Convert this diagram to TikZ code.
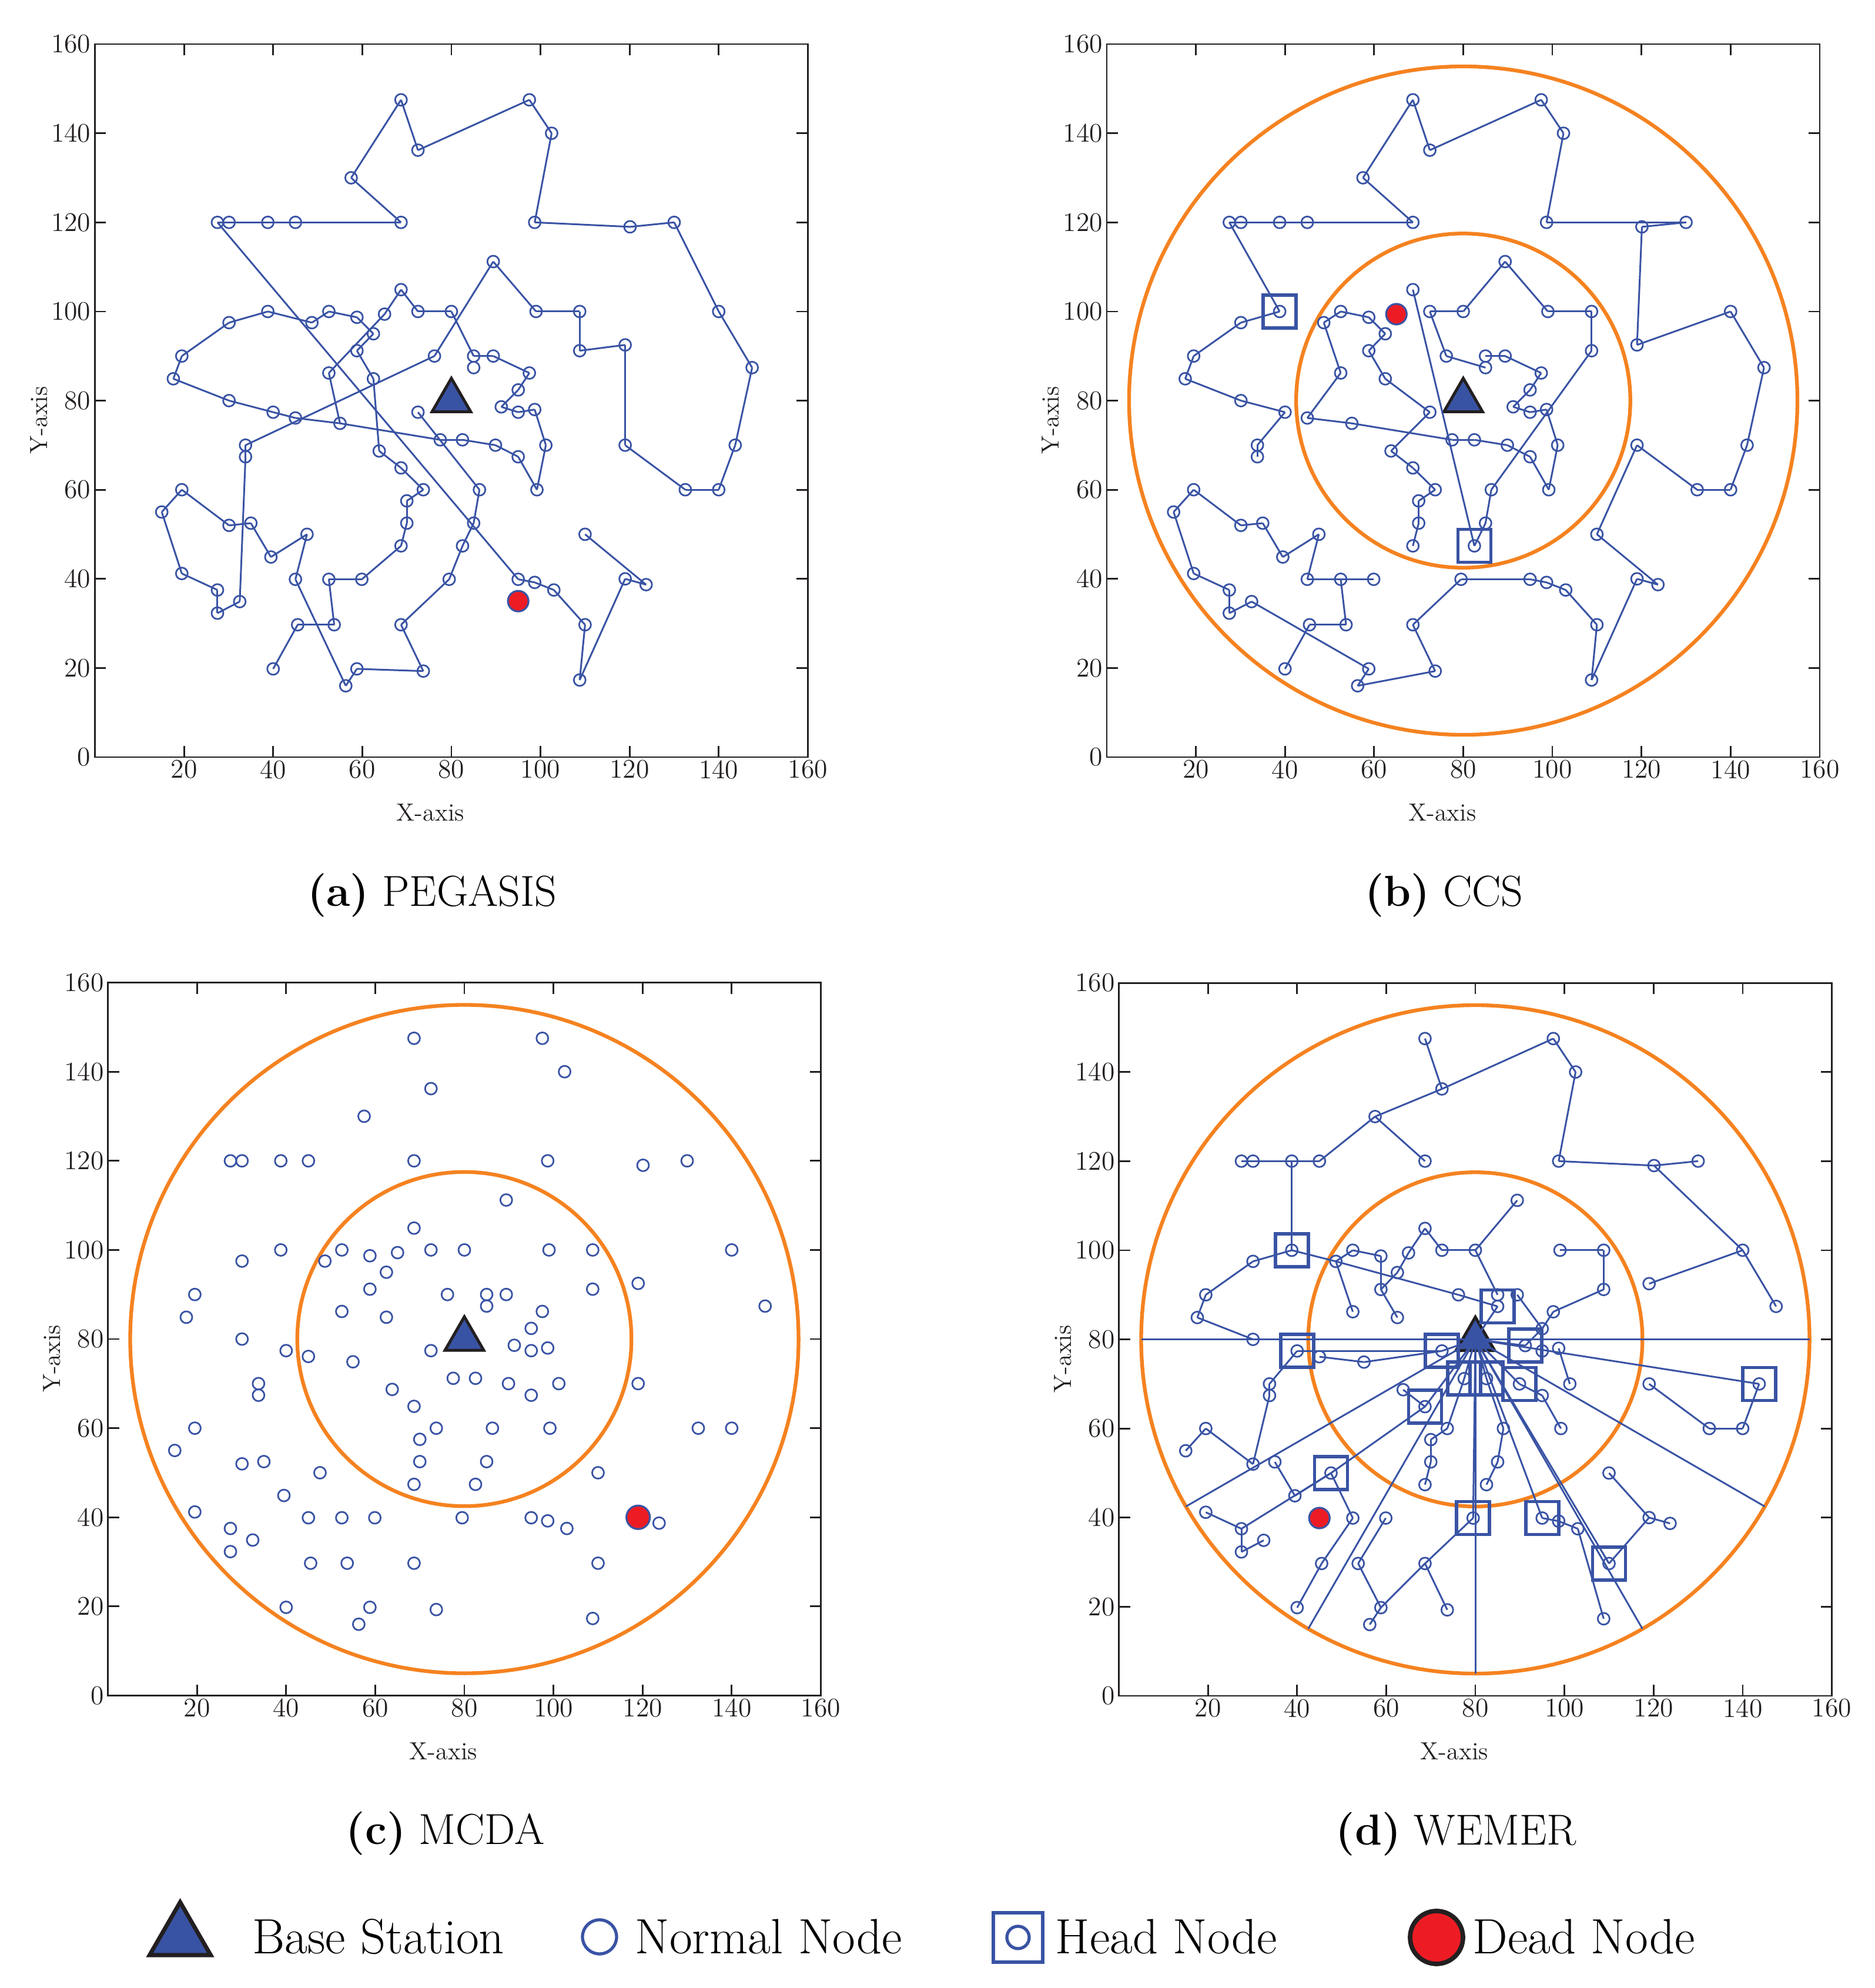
\documentclass[tikz,border=0pt]{standalone}
\usepackage{fontspec}
\usepackage{xcolor}
\usepackage{tikz}
\usetikzlibrary{shapes.geometric,calc}

\definecolor{nodeblue}{RGB}{57,83,164}
\definecolor{ringorange}{RGB}{245,130,32}
\definecolor{deadred}{RGB}{237,28,36}
\definecolor{axisblack}{RGB}{35,31,32}

\tikzset{
  normal/.style={circle,draw=nodeblue,line width=0.8pt,inner sep=0pt,minimum size=0.2cm},
  head/.style={rectangle,draw=nodeblue,line width=1.6pt,inner sep=0pt,minimum size=0.56cm},
  dead/.style={circle,draw=nodeblue,fill=deadred,line width=0.9pt,inner sep=0pt,minimum size=0.35cm},
  bs/.style={regular polygon,regular polygon sides=3,draw=axisblack,fill=nodeblue,line width=1.4pt,inner sep=0pt,minimum size=0.76cm},
  link/.style={draw=nodeblue,line width=0.85pt},
  ring/.style={draw=ringorange,line width=1.8pt},
  axisline/.style={draw=axisblack,line width=0.8pt},
  ticklab/.style={font=\fontsize{13}{15}\selectfont,text=axisblack,inner sep=0pt},
  axislab/.style={font=\fontsize{12}{14}\selectfont,text=axisblack,inner sep=0pt},
  subcap/.style={font=\fontsize{21}{25}\selectfont,inner sep=0pt},
  legtext/.style={font=\fontsize{24}{28}\selectfont,anchor=base west,inner sep=0pt},
  panel/.style={x=0.0758cm,y=0.0758cm}
}

% sensor field, same for all four panels
\newcommand\wsnnodes{1/68.7/147.5,2/97.5/147.5,3/102.5/140,4/72.5/136.2,5/57.5/130,6/27.5/120,7/30.1/120,8/38.8/120,9/45/120,10/68.7/120,11/98.7/120,12/120.1/119,13/130/120,14/89.4/111.2,15/68.7/104.9,16/38.8/100,17/52.5/100,18/72.5/100,19/80/100,20/99/100,21/108.8/100,22/140/100,23/30.1/97.5,24/48.7/97.5,25/58.8/98.7,26/65/99.4,27/62.5/95,28/19.5/90,29/58.8/91.2,30/76.2/90,31/85/90,32/89.4/90,33/108.8/91.2,34/119/92.5,35/17.6/84.9,36/52.5/86.2,37/62.5/84.9,38/85/87.4,39/97.5/86.2,40/147.5/87.4,41/95/82.4,42/30.1/80,43/40/77.4,44/45/76.1,45/55/74.9,46/72.5/77.4,47/91.2/78.6,48/95/77.4,49/98.7/78,50/33.8/70,51/33.8/67.4,52/63.8/68.7,53/77.5/71.2,54/82.5/71.2,55/89.9/70,56/101.2/70,57/119/70,58/95/67.4,59/68.7/64.9,60/19.5/60,61/73.7/60,62/86.3/60,63/99.2/60,64/132.5/60,65/140/60,66/70/57.5,67/15/55,68/30.1/52,69/35/52.5,70/70/52.5,71/85/52.5,72/47.6/50,73/110/50,74/68.7/47.4,75/82.5/47.4,76/39.5/44.9,77/19.5/41.2,78/45/39.9,79/52.5/39.9,80/59.9/39.9,81/79.5/39.9,82/95/39.9,83/98.7/39.2,84/103/37.5,85/119/40,86/123.7/38.7,87/27.5/37.5,88/32.5/34.9,89/27.5/32.3,90/45.5/29.7,91/53.7/29.7,92/68.7/29.7,93/110/29.7,94/40/19.8,95/58.8/19.8,96/73.7/19.3,97/56.3/16,98/108.8/17.3}

% PEGASIS chain
\newcommand\pegasislinks{6/7,7/8,8/9,9/10,10/5,5/1,1/4,4/2,2/3,3/11,11/12,12/13,13/22,22/40,40/99,99/65,65/64,64/57,57/34,34/33,33/21,21/20,20/14,14/30,30/50,50/51,51/88,88/89,89/87,87/77,77/67,67/60,60/68,68/69,69/76,76/72,72/78,78/97,97/95,95/96,96/92,92/81,81/75,75/71,71/62,62/46,35/28,28/23,23/16,16/24,24/17,17/25,25/27,27/29,29/37,37/52,52/59,59/61,61/66,66/70,70/74,74/80,80/79,79/91,91/90,90/94,35/42,42/43,43/44,44/45,45/53,53/54,54/55,55/58,58/63,63/56,56/49,49/48,48/47,47/41,41/39,39/32,32/31,31/19,19/18,18/15,15/26,26/36,36/45,6/82,82/83,83/84,84/93,93/98,98/85,85/86,86/73}

% CCS chains
\newcommand\ccslinks{6/7,7/8,8/9,9/10,10/5,5/1,1/4,4/2,2/3,3/11,11/13,13/12,12/34,34/22,22/40,40/99,99/65,65/64,64/57,57/73,73/86,86/85,85/98,98/93,93/84,84/83,83/82,82/81,81/92,92/96,96/97,97/95,95/88,88/89,89/87,87/77,77/67,67/60,60/68,68/69,69/76,76/72,72/78,78/79,79/80,79/91,91/90,90/94,6/16,16/23,23/28,28/35,35/42,42/43,43/50,50/51,44/45,45/53,53/54,54/55,55/58,58/63,63/56,56/49,49/48,48/47,47/41,41/39,39/32,32/31,44/36,36/24,24/17,17/25,25/27,27/29,29/37,37/46,46/52,52/59,59/61,61/66,66/70,70/74,75/71,71/62,62/33,33/21,21/20,20/14,14/19,19/18,18/30,30/38,75/15}

% WEMER trees
\newcommand\wemerlinks{1/4,4/2,2/3,3/11,11/12,12/13,12/22,22/34,22/40,4/5,5/10,5/9,9/8,8/7,7/6,8/16,16/23,23/28,28/35,35/42,16/24,24/30,30/38,24/17,17/25,25/29,29/37,29/27,27/26,26/15,15/18,18/19,19/14,19/31,32/41,41/47,39/41,20/21,21/33,33/39,36/24,43/46,44/45,45/46,43/50,50/51,51/68,60/67,60/68,69/76,76/72,87/72,72/59,52/59,87/77,87/89,89/88,72/79,79/90,90/94,80/91,91/95,95/97,95/92,92/81,92/96,82/83,83/84,84/98,93/85,85/86,73/85,57/64,64/65,65/99,63/58,58/55,56/49,61/53,61/66,66/70,70/74,62/54,62/71,71/75}

\begin{document}
\begin{tikzpicture}
\useasboundingbox (0,0) rectangle (31.9,33.82);

%axes of the four panels
\foreach \p/\ox/\oy in {a/1.615/20.94,b/18.83/20.94,c/1.836/4.975,d/19.036/4.97}{
  \begin{scope}[shift={(\ox cm,\oy cm)},panel]
    \draw[axisline] (0,0) rectangle (160,160);
    \foreach \t in {20,40,...,140}
      \draw[axisline] (\t,0) -- (\t,2.5) (\t,160) -- (\t,157.5) (0,\t) -- (2.5,\t) (160,\t) -- (157.5,\t);
    \foreach \t in {20,40,...,160}
      \node[ticklab,anchor=north] (\p xt\t) at (\t,-0.6) {\t};
    \foreach \t in {0,20,...,160}
      \node[ticklab,anchor=east] (\p yt\t) at (-0.85,\t) {\t};
    \node[axislab] (\p xlab) at (75.3,-12.5) {X-axis};
    \node[axislab,rotate=90] (\p ylab) at (-12.6,75.6) {Y-axis};
  \end{scope}
}

%(a) PEGASIS
\begin{scope}[shift={(1.615cm,20.94cm)},panel]
  \foreach \i/\x/\y in \wsnnodes \node[normal] (a\i) at (\x,\y) {};
  \node[normal] (a99) at (143.7,70) {};
  \node[bs] (abs) at (80,80) {};
  \foreach \u/\v in \pegasislinks \draw[link] (a\u.center) -- (a\v.center);
  \node[dead] (adead) at (95,35) {};
  \node[subcap] (acap) at (75.7,-31) {\textbf{(a)} PEGASIS};
\end{scope}

%(b) CCS
\begin{scope}[shift={(18.83cm,20.94cm)},panel]
  \draw[ring] (80,80) circle (75) (80,80) circle (37.5);
  \foreach \i/\x/\y in \wsnnodes \node[normal] (b\i) at (\x,\y) {};
  \node[normal] (b99) at (143.7,70) {};
  \node[bs] (bbs) at (80,80) {};
  \foreach \u/\v in \ccslinks \draw[link] (b\u.center) -- (b\v.center);
  \foreach \h in {16,75} \node[head] (bh\h) at (b\h) {};
  \node[dead] (bdead) at (b26) {};
  \node[subcap] (bcap) at (75.7,-31) {\textbf{(b)} CCS};
\end{scope}

%(c) MCDA
\begin{scope}[shift={(1.836cm,4.975cm)},panel]
  \draw[ring] (80,80) circle (75) (80,80) circle (37.5);
  \foreach \i/\x/\y in \wsnnodes \node[normal] (c\i) at (\x,\y) {};
  \node[bs] (cbs) at (80,80) {};
  \node[dead,minimum size=0.4cm] (cdead) at (c85) {};
  \node[subcap] (ccap) at (75.7,-31) {\textbf{(c)} MCDA};
\end{scope}

%(d) WEMER
\begin{scope}[shift={(19.036cm,4.97cm)},panel]
  \draw[ring] (80,80) circle (75) (80,80) circle (37.5);
  \foreach \a in {0,180,210,240,270,300,330}
    \path (80,80) ++(\a:75) coordinate (dsec\a);
  \foreach \i/\x/\y in \wsnnodes \node[normal] (d\i) at (\x,\y) {};
  \node[normal] (d99) at (143.7,70) {};
  \node[bs] (dbs) at (80,80) {};
  \foreach \a in {0,180,210,240,270,300,330}
    \draw[link] (dbs.center) -- (dsec\a);
  \foreach \u/\v in \wemerlinks \draw[link] (d\u.center) -- (d\v.center);
  \foreach \h in {38,46,47,53,54,55,99,59,81,82,93}
    \draw[link] (dbs.center) -- (d\h.center);
  \foreach \h in {16,38,43,46,47,53,54,55,99,59,72,81,82,93}
    \node[head] (dh\h) at (d\h) {};
  \node[dead] (ddead) at (d78) {};
  \node[subcap] (dcap) at (75.7,-31) {\textbf{(d)} WEMER};
\end{scope}

%legend
\node[bs,minimum size=1.2cm,line width=2pt] (legbs) at (3.065,0.86) {};
\node[legtext] (legbstext) at (4.29,0.59) {Base Station};
\node[normal,minimum size=0.58cm,line width=1.5pt] (legnormal) at (10.2,0.87) {};
\node[legtext] (legnormaltext) at (10.8,0.59) {Normal Node};
\node[head,minimum size=0.84cm,line width=1.8pt] (leghead) at (17.32,0.86) {};
\node[normal,minimum size=0.38cm,line width=1.5pt] (legheadin) at (17.32,0.86) {};
\node[legtext] (legheadtext) at (17.95,0.59) {Head Node};
\node[dead,draw=axisblack,minimum size=0.9cm,line width=2.2pt] (legdead) at (24.44,0.86) {};
\node[legtext] (legdeadtext) at (25.05,0.59) {Dead Node};
\end{tikzpicture}
\end{document}
